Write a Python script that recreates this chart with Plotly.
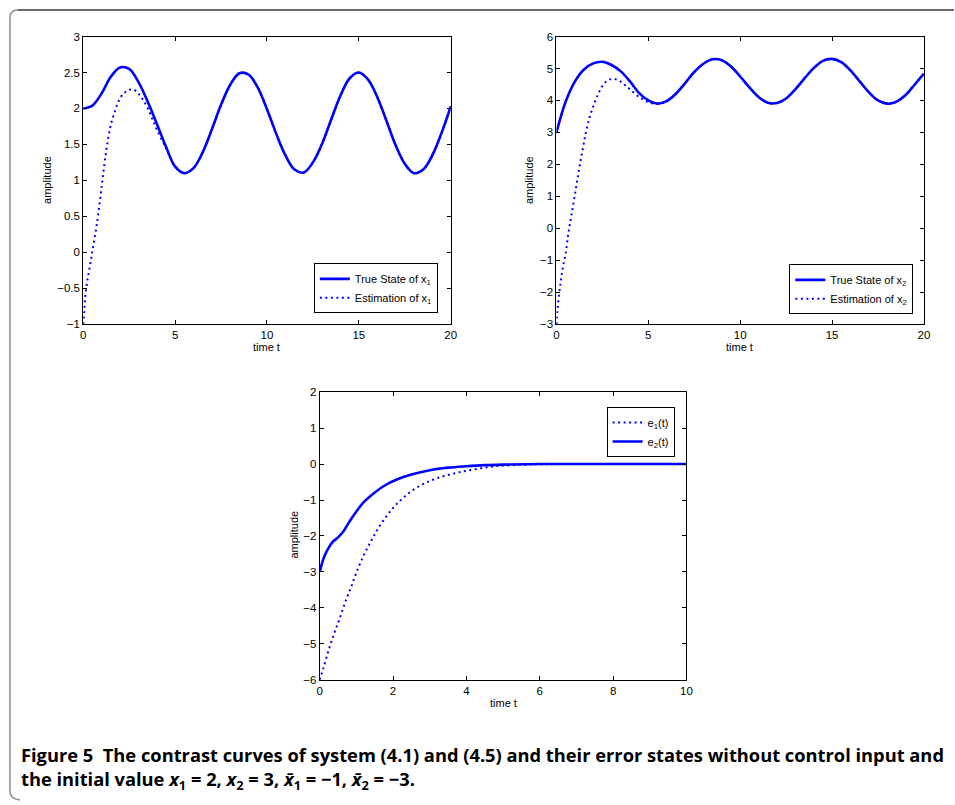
import plotly.graph_objects as go

# ---------------- data ----------------
t_grid = [0, 0.5, 1, 1.5, 2, 2.5, 3, 3.5, 4, 4.5, 5, 5.5, 6, 6.5, 7, 7.5, 8, 8.5, 9, 9.5,
          10, 10.5, 11, 11.5, 12, 12.5, 13, 13.5, 14, 14.5, 15, 15.5, 16, 16.5, 17, 17.5,
          18, 18.5, 19, 19.5, 20]

true_x1 = [2.00, 2.04, 2.21, 2.44, 2.57, 2.55, 2.37, 2.10, 1.79, 1.47, 1.19, 1.10, 1.17,
           1.39, 1.71, 2.05, 2.33, 2.49, 2.47, 2.29, 1.99, 1.65, 1.35, 1.15, 1.11, 1.25,
           1.51, 1.85, 2.18, 2.42, 2.50, 2.40, 2.16, 1.83, 1.49, 1.23, 1.10, 1.15, 1.35,
           1.66, 2.03]

t_est_x1 = [0, 0.05, 0.1, 0.2, 0.35, 0.5, 0.75, 1.0, 1.25, 1.5, 1.75, 2.0, 2.25, 2.5,
            2.75, 3.0, 3.25, 3.5, 3.75, 4.0, 4.5, 5.0, 5.5]
est_x1_head = [-1.00, -0.84, -0.64, -0.43, -0.21, 0.02, 0.41, 0.91, 1.41, 1.77, 1.98,
               2.14, 2.22, 2.26, 2.26, 2.21, 2.12, 2.01, 1.86, 1.71, 1.45, 1.20, 1.10]

true_x2 = [3.00, 3.96, 4.59, 4.97, 5.16, 5.21, 5.11, 4.91, 4.60, 4.23, 4.00, 3.90, 3.98,
           4.21, 4.54, 4.89, 5.15, 5.29, 5.26, 5.06, 4.75, 4.41, 4.11, 3.93, 3.92, 4.06,
           4.35, 4.69, 5.01, 5.24, 5.30, 5.20, 4.94, 4.60, 4.26, 4.00, 3.90, 3.96, 4.17,
           4.50, 4.84]

t_est_x2 = [0, 0.05, 0.15, 0.25, 0.35, 0.5, 0.65, 0.8, 1.0, 1.2, 1.4, 1.6, 1.8, 2.0,
            2.25, 2.5, 2.75, 3.0, 3.25, 3.5, 3.75, 4.0, 4.5, 5.0, 5.5]
est_x2_head = [-3.00, -2.60, -2.05, -1.60, -1.22, -0.80, -0.15, 0.36, 1.03, 1.74, 2.38,
               2.99, 3.46, 3.81, 4.17, 4.45, 4.61, 4.67, 4.66, 4.59, 4.47, 4.35, 4.11,
               3.95, 3.89]

t_e1 = [0, 0.1, 0.25, 0.4, 0.55, 0.7, 0.85, 1.0, 1.2, 1.4, 1.6, 1.85, 2.1, 2.45, 2.85,
        3.3, 3.75, 4.2, 4.8, 5.7, 6.5, 7.5, 8.5, 10]
e1 = [-6.00, -5.68, -5.15, -4.70, -4.28, -3.83, -3.44, -3.02, -2.54, -2.14, -1.78, -1.41,
      -1.11, -0.79, -0.54, -0.36, -0.24, -0.15, -0.06, -0.015, 0.0, 0.0, 0.0, 0.0]

t_e2 = [0, 0.1, 0.2, 0.35, 0.5, 0.65, 0.8, 1.0, 1.2, 1.45, 1.75, 2.1, 2.5, 3.0, 3.5, 4.0,
        4.5, 5.0, 6.0, 7.0, 8.0, 9.0, 10.0]
e2 = [-3.00, -2.64, -2.41, -2.17, -2.04, -1.87, -1.62, -1.32, -1.06, -0.83, -0.61, -0.43,
      -0.29, -0.17, -0.10, -0.06, -0.03, -0.015, 0.0, 0.0, 0.0, 0.0, 0.0]

# estimates coincide with the true states after t = 6
t_est_x1_full = t_est_x1 + t_grid[12:]
est_x1 = est_x1_head + true_x1[12:]
t_est_x2_full = t_est_x2 + t_grid[12:]
est_x2 = est_x2_head + true_x2[12:]

# ---------------- figure ----------------
W, H = 955, 805
BLUE = "#0000FF"
FONT = "Liberation Sans"


def px_x(p):
    return p / W


def px_y(p):
    return 1 - p / H


fig = go.Figure()

solid = dict(color=BLUE, width=2.6)
dotted = dict(color=BLUE, width=2, dash="2px,3.5px")

fig.add_trace(go.Scatter(x=t_grid, y=true_x1, mode="lines", line=dict(**solid, shape="spline"),
                         name="True State of x<sub>1</sub>", xaxis="x", yaxis="y", legend="legend"))
fig.add_trace(go.Scatter(x=t_est_x1_full, y=est_x1, mode="lines", line=dict(**dotted, shape="spline"),
                         name="Estimation of x<sub>1</sub>", xaxis="x", yaxis="y", legend="legend"))

fig.add_trace(go.Scatter(x=t_grid, y=true_x2, mode="lines", line=dict(**solid, shape="spline"),
                         name="True State of x<sub>2</sub>", xaxis="x2", yaxis="y2", legend="legend2"))
fig.add_trace(go.Scatter(x=t_est_x2_full, y=est_x2, mode="lines", line=dict(**dotted, shape="spline"),
                         name="Estimation of x<sub>2</sub>", xaxis="x2", yaxis="y2", legend="legend2"))

fig.add_trace(go.Scatter(x=t_e1, y=e1, mode="lines", line=dict(**dotted, shape="spline"),
                         name="e<sub>1</sub>(t)", xaxis="x3", yaxis="y3", legend="legend3"))
fig.add_trace(go.Scatter(x=t_e2, y=e2, mode="lines", line=dict(**solid, shape="spline"),
                         name="e<sub>2</sub>(t)", xaxis="x3", yaxis="y3", legend="legend3"))

axis_common = dict(showline=True, linecolor="black", linewidth=1, mirror="ticks",
                   ticks="inside", ticklen=4, tickcolor="black", tickwidth=1,
                   showgrid=False, zeroline=False,
                   tickfont=dict(family=FONT, size=11.5, color="black"))

# axes boxes in pixels
boxes = {
    1: (81, 452, 31, 323),
    2: (558.7, 929.7, 31, 323),
    3: (319.7, 690, 392, 684),
}

xr = {1: [0, 20], 2: [0, 20], 3: [0, 10]}
xd = {1: 5, 2: 5, 3: 2}
yr = {1: [-1, 3], 2: [-3, 6], 3: [-6, 2]}
yd = {1: 0.5, 2: 1, 3: 1}

layout = dict(width=W, height=H, margin=dict(l=0, r=0, t=0, b=0),
              paper_bgcolor="white", plot_bgcolor="white", showlegend=True,
              font=dict(family=FONT, size=11, color="black"))
for i, (x0, x1, y0, y1) in boxes.items():
    sx = "" if i == 1 else str(i)
    layout["xaxis" + sx] = dict(axis_common, domain=[px_x(x0), px_x(x1)], range=xr[i],
                                dtick=xd[i], tick0=0, anchor="y" + sx)
    layout["yaxis" + sx] = dict(axis_common, domain=[px_y(y1), px_y(y0)], range=yr[i],
                                dtick=yd[i], tick0=0, anchor="x" + sx)

leg_common = dict(bgcolor="white", bordercolor="black", borderwidth=1,
                  font=dict(family=FONT, size=11, color="black"), tracegroupgap=0,
                  itemwidth=30)
layout["legend"] = dict(leg_common, x=px_x(439), y=px_y(312), xanchor="right", yanchor="bottom")
layout["legend2"] = dict(leg_common, x=px_x(919), y=px_y(313), xanchor="right", yanchor="bottom")
layout["legend3"] = dict(leg_common, x=px_x(678), y=px_y(407), xanchor="right", yanchor="top")

fig.update_layout(**layout)

# axis titles
ann = []
for (x, y) in [(45, 177), (531.7, 177), (293.3, 537)]:
    ann.append(dict(text="amplitude", x=px_x(x), y=px_y(y), xref="paper", yref="paper",
                    showarrow=False, textangle=-90, font=dict(family=FONT, size=11, color="black"),
                    xanchor="center", yanchor="middle"))
for (x, y) in [(266.5, 346.5), (744, 346.5), (505, 707.5)]:
    ann.append(dict(text="time t", x=px_x(x), y=px_y(y), xref="paper", yref="paper",
                    showarrow=False, font=dict(family=FONT, size=11, color="black"),
                    xanchor="center", yanchor="middle"))

caption = ("Figure 5  The contrast curves of system (4.1) and (4.5) and their error states "
           "without control input and<br>the initial value <i>x</i><sub>1</sub> = 2, "
           "<i>x</i><sub>2</sub> = 3, <i>x\u0304</i><sub>1</sub> = \u22121, "
           "<i>x\u0304</i><sub>2</sub> = \u22123.")
ann.append(dict(text=caption, x=px_x(16), y=px_y(745), xref="paper", yref="paper",
                showarrow=False, align="left", xanchor="left", yanchor="top",
                font=dict(family="Open Sans", size=18.3, color="black", weight="bold")))
fig.update_layout(annotations=ann)

# rounded frame
r = 8
top_y = 4
left_x = 7
frame_left = (f"M {px_x(left_x + r)},{px_y(top_y)} Q {px_x(left_x)},{px_y(top_y)} "
              f"{px_x(left_x)},{px_y(top_y + r)} L {px_x(left_x)},{px_y(797)} "
              f"Q {px_x(left_x)},{px_y(805)} {px_x(left_x + r + 2)},{px_y(806)}")
frame_top = f"M {px_x(left_x + r)},{px_y(top_y)} L {px_x(W + 5)},{px_y(top_y)}"
fig.update_layout(shapes=[
    dict(type="path", path=frame_left, xref="paper", yref="paper",
         line=dict(color="#8c8c8c", width=1.5)),
    dict(type="path", path=frame_top, xref="paper", yref="paper",
         line=dict(color="#3a3a3a", width=1.5)),
])

fig.write_html("out.html")
